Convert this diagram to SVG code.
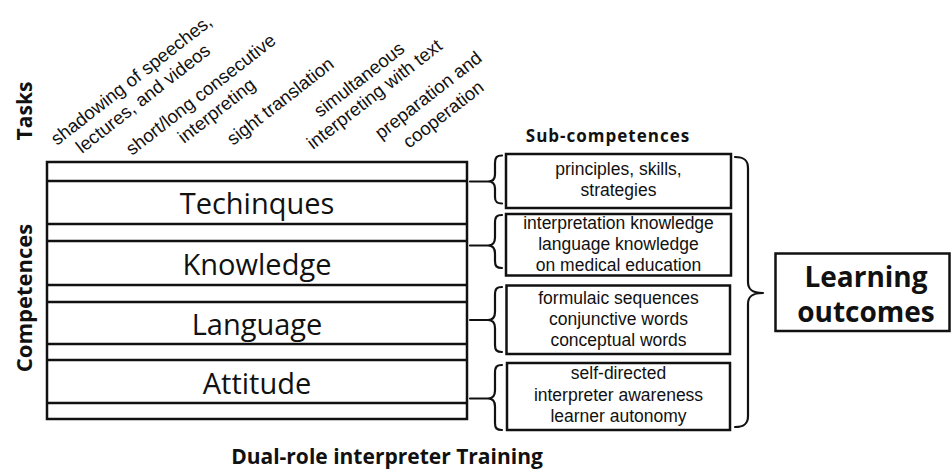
<svg xmlns="http://www.w3.org/2000/svg" width="952" height="470" viewBox="0 0 952 470">
  <style>
    .frame { fill: #fff; stroke: #111; stroke-width: 2.5; }
    .rule { stroke: #111; stroke-width: 2.5; fill: none; }
    .brace { stroke: #111; stroke-width: 2.2; fill: none; stroke-linecap: round; stroke-linejoin: round; }
    .task { font-family: "Liberation Sans", Arial, sans-serif; font-size: 18.5px; fill: #111; }
    .sub { font-family: "Liberation Sans", Arial, sans-serif; font-size: 17.5px; fill: #111; text-anchor: middle; }
    .comp { font-family: "Open Sans", "Noto Sans", sans-serif; font-size: 29px; fill: #111; text-anchor: middle; }
    .head { font-family: "Open Sans", "Noto Sans", sans-serif; font-weight: bold; fill: #111; }
    .outcome { font-family: "Open Sans", "Noto Sans", sans-serif; font-weight: bold; font-size: 28px; fill: #111; text-anchor: middle; }
  </style>
  <rect width="952" height="470" fill="#fff"/>

  <!-- axis titles -->
  <g id="axis-titles">
    <text class="head" font-size="21" text-anchor="middle" transform="translate(32,111) rotate(-90)">Tasks</text>
    <text class="head" font-size="22" text-anchor="middle" transform="translate(32,298) rotate(-90)">Competences</text>
    <text class="head" font-size="17" text-anchor="middle" letter-spacing="1" x="608" y="142">Sub-competences</text>
    <text class="head" font-size="21" text-anchor="middle" x="387" y="464">Dual-role interpreter Training</text>
  </g>

  <!-- task labels, slanted above the competence table -->
  <g id="tasks">
    <text class="task" transform="translate(57,146) rotate(-38)">shadowing of speeches,</text>
    <text class="task" transform="translate(82,154) rotate(-38)">lectures, and videos</text>
    <text class="task" transform="translate(132,156) rotate(-38)">short/long consecutive</text>
    <text class="task" transform="translate(184,144) rotate(-38)">interpreting</text>
    <text class="task" transform="translate(233,146) rotate(-38)">sight translation</text>
    <text class="task" transform="translate(320,118) rotate(-38)">simultaneous</text>
    <text class="task" transform="translate(313,150) rotate(-38)">interpreting with text</text>
    <text class="task" transform="translate(381,140) rotate(-38)">preparation and</text>
    <text class="task" transform="translate(409,149) rotate(-38)">cooperation</text>
  </g>

  <!-- competence table -->
  <g id="competences">
    <rect class="frame" x="47" y="162" width="420" height="257"/>
    <path class="rule" d="M47 181H467M47 224H467M47 241H467M47 285H467M47 302H467M47 344H467M47 360H467M47 403H467"/>
    <text class="comp" x="257" y="214">Techinques</text>
    <text class="comp" x="257" y="275">Knowledge</text>
    <text class="comp" x="257" y="335">Language</text>
    <text class="comp" x="257" y="394">Attitude</text>
  </g>

  <!-- sub-competence boxes -->
  <g id="sub-techniques">
    <rect class="frame" x="506" y="154" width="225" height="54"/>
    <text class="sub" x="618.5" y="175">principles, skills,</text>
    <text class="sub" x="618.5" y="196">strategies</text>
  </g>
  <g id="sub-knowledge">
    <rect class="frame" x="506" y="214" width="225" height="61.5"/>
    <text class="sub" x="618.5" y="228.5">interpretation knowledge</text>
    <text class="sub" x="618.5" y="249.5">language knowledge</text>
    <text class="sub" x="618.5" y="270.5">on medical education</text>
  </g>
  <g id="sub-language">
    <rect class="frame" x="506.5" y="285.5" width="223.5" height="68.5"/>
    <text class="sub" x="618.5" y="304">formulaic sequences</text>
    <text class="sub" x="618.5" y="325">conjunctive words</text>
    <text class="sub" x="618.5" y="346">conceptual words</text>
  </g>
  <g id="sub-attitude">
    <rect class="frame" x="507" y="363" width="223" height="67"/>
    <text class="sub" x="618.5" y="379">self-directed</text>
    <text class="sub" x="618.5" y="400.5">interpreter awareness</text>
    <text class="sub" x="618.5" y="421.5">learner autonomy</text>
  </g>

  <!-- outcome box -->
  <g id="outcomes">
    <rect class="frame" x="775.5" y="253.5" width="174" height="77.5"/>
    <text class="outcome" x="866" y="287">Learning</text>
    <text class="outcome" x="866" y="322">outcomes</text>
  </g>

  <!-- braces linking table rows, sub-competences and outcomes -->
  <g id="connectors">
    <path class="brace" d="M502 155.5C496.5 155.5 495 157.5 495 163L495 174.5C495 179.5 493 181.5 488 181.5L470 181.5M488 181.5C493 181.5 495 183.5 495 188.5L495 197C495 201.5 496.5 203.5 502 203.5"/>
    <path class="brace" d="M502 215C496.5 215 495 217 495 223L495 237.5C495 243 493 245.5 488 245.5L470 245.5M488 245.5C493 245.5 495 248 495 253.5L495 261C495 266 496.5 268 502 268"/>
    <path class="brace" d="M502 287C496.5 287 495 289 495 295L495 312C495 317.5 493 320 488 320L470 320M488 320C493 320 495 322.5 495 328L495 345C495 350 496.5 352 502 352"/>
    <path class="brace" d="M502 365C496.5 365 495 367 495 373L495 390.5C495 396 493 398.5 488 398.5L470 398.5M488 398.5C493 398.5 495 401 495 406.5L495 423C495 428 496.5 430 502 430"/>
    <path class="brace" d="M735 157C744 157 748 160 748 168L748 282C748 289.5 752 293 763 293C752 293 748 296.5 748 304L748 416C748 424 744 427 735 427"/>
  </g>
</svg>
